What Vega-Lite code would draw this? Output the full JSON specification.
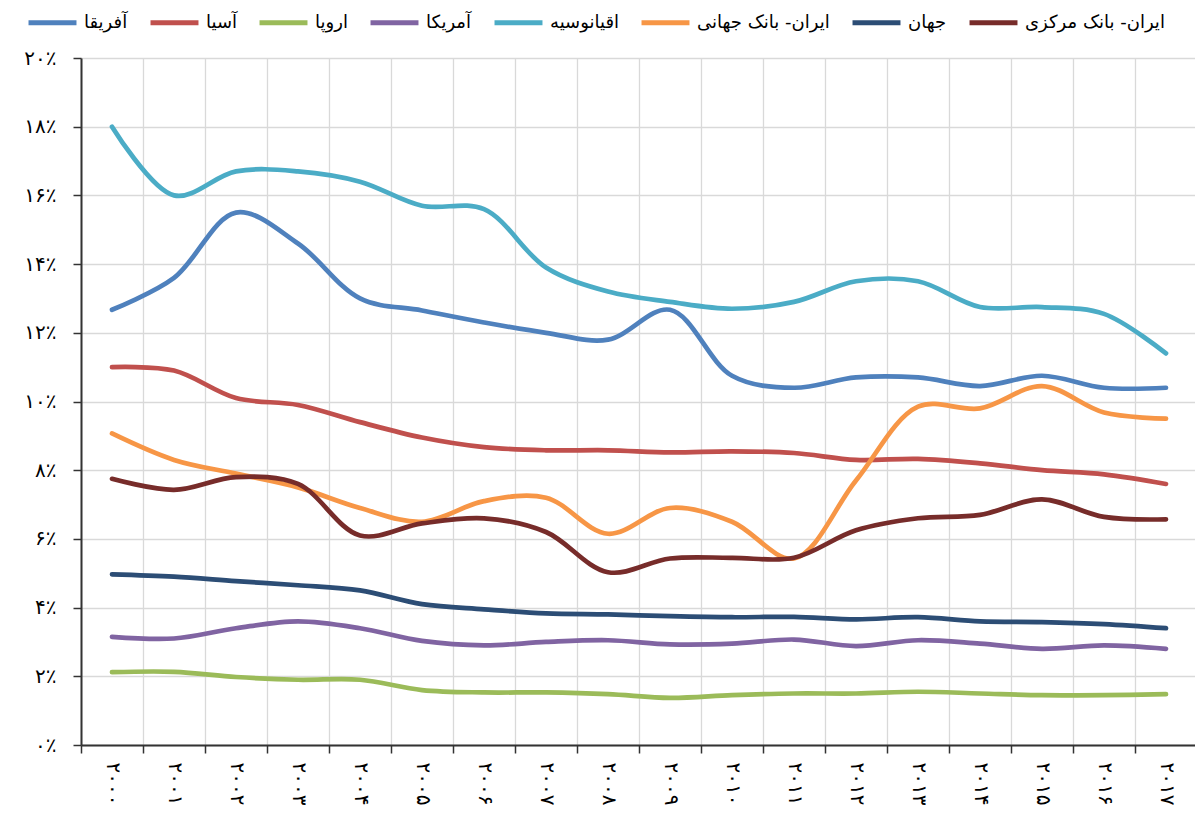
{
  "$schema": "https://vega.github.io/schema/vega-lite/v6.json",
  "width": 1116,
  "height": 687,
  "autosize": {"type": "none"},
  "padding": {"left": 81, "top": 58, "right": 0, "bottom": 76},
  "background": "white",
  "config": {"view": {"stroke": null}, "font": "DejaVu Sans"},
  "data": {"values": [
    {"s":"آفریقا","year":"۲۰۰۰","v":12.67},{"s":"آفریقا","year":"۲۰۰۱","v":13.6},{"s":"آفریقا","year":"۲۰۰۲","v":15.5},{"s":"آفریقا","year":"۲۰۰۳","v":14.6},{"s":"آفریقا","year":"۲۰۰۴","v":13.0},{"s":"آفریقا","year":"۲۰۰۵","v":12.65},{"s":"آفریقا","year":"۲۰۰۶","v":12.3},{"s":"آفریقا","year":"۲۰۰۷","v":12.0},{"s":"آفریقا","year":"۲۰۰۸","v":11.8},{"s":"آفریقا","year":"۲۰۰۹","v":12.67},{"s":"آفریقا","year":"۲۰۱۰","v":10.75},{"s":"آفریقا","year":"۲۰۱۱","v":10.4},{"s":"آفریقا","year":"۲۰۱۲","v":10.7},{"s":"آفریقا","year":"۲۰۱۳","v":10.7},{"s":"آفریقا","year":"۲۰۱۴","v":10.45},{"s":"آفریقا","year":"۲۰۱۵","v":10.75},{"s":"آفریقا","year":"۲۰۱۶","v":10.4},{"s":"آفریقا","year":"۲۰۱۷","v":10.4},
    {"s":"آسیا","year":"۲۰۰۰","v":11.0},{"s":"آسیا","year":"۲۰۰۱","v":10.9},{"s":"آسیا","year":"۲۰۰۲","v":10.1},{"s":"آسیا","year":"۲۰۰۳","v":9.9},{"s":"آسیا","year":"۲۰۰۴","v":9.4},{"s":"آسیا","year":"۲۰۰۵","v":8.95},{"s":"آسیا","year":"۲۰۰۶","v":8.67},{"s":"آسیا","year":"۲۰۰۷","v":8.58},{"s":"آسیا","year":"۲۰۰۸","v":8.58},{"s":"آسیا","year":"۲۰۰۹","v":8.52},{"s":"آسیا","year":"۲۰۱۰","v":8.55},{"s":"آسیا","year":"۲۰۱۱","v":8.5},{"s":"آسیا","year":"۲۰۱۲","v":8.3},{"s":"آسیا","year":"۲۰۱۳","v":8.33},{"s":"آسیا","year":"۲۰۱۴","v":8.2},{"s":"آسیا","year":"۲۰۱۵","v":8.0},{"s":"آسیا","year":"۲۰۱۶","v":7.88},{"s":"آسیا","year":"۲۰۱۷","v":7.6},
    {"s":"اروپا","year":"۲۰۰۰","v":2.12},{"s":"اروپا","year":"۲۰۰۱","v":2.13},{"s":"اروپا","year":"۲۰۰۲","v":1.98},{"s":"اروپا","year":"۲۰۰۳","v":1.9},{"s":"اروپا","year":"۲۰۰۴","v":1.9},{"s":"اروپا","year":"۲۰۰۵","v":1.6},{"s":"اروپا","year":"۲۰۰۶","v":1.53},{"s":"اروپا","year":"۲۰۰۷","v":1.53},{"s":"اروپا","year":"۲۰۰۸","v":1.48},{"s":"اروپا","year":"۲۰۰۹","v":1.37},{"s":"اروپا","year":"۲۰۱۰","v":1.45},{"s":"اروپا","year":"۲۰۱۱","v":1.5},{"s":"اروپا","year":"۲۰۱۲","v":1.5},{"s":"اروپا","year":"۲۰۱۳","v":1.55},{"s":"اروپا","year":"۲۰۱۴","v":1.5},{"s":"اروپا","year":"۲۰۱۵","v":1.45},{"s":"اروپا","year":"۲۰۱۶","v":1.45},{"s":"اروپا","year":"۲۰۱۷","v":1.48},
    {"s":"آمریکا","year":"۲۰۰۰","v":3.15},{"s":"آمریکا","year":"۲۰۰۱","v":3.1},{"s":"آمریکا","year":"۲۰۰۲","v":3.4},{"s":"آمریکا","year":"۲۰۰۳","v":3.6},{"s":"آمریکا","year":"۲۰۰۴","v":3.4},{"s":"آمریکا","year":"۲۰۰۵","v":3.03},{"s":"آمریکا","year":"۲۰۰۶","v":2.9},{"s":"آمریکا","year":"۲۰۰۷","v":3.0},{"s":"آمریکا","year":"۲۰۰۸","v":3.05},{"s":"آمریکا","year":"۲۰۰۹","v":2.93},{"s":"آمریکا","year":"۲۰۱۰","v":2.95},{"s":"آمریکا","year":"۲۰۱۱","v":3.07},{"s":"آمریکا","year":"۲۰۱۲","v":2.88},{"s":"آمریکا","year":"۲۰۱۳","v":3.05},{"s":"آمریکا","year":"۲۰۱۴","v":2.95},{"s":"آمریکا","year":"۲۰۱۵","v":2.8},{"s":"آمریکا","year":"۲۰۱۶","v":2.9},{"s":"آمریکا","year":"۲۰۱۷","v":2.8},
    {"s":"اقیانوسیه","year":"۲۰۰۰","v":18.0},{"s":"اقیانوسیه","year":"۲۰۰۱","v":16.0},{"s":"اقیانوسیه","year":"۲۰۰۲","v":16.7},{"s":"اقیانوسیه","year":"۲۰۰۳","v":16.7},{"s":"اقیانوسیه","year":"۲۰۰۴","v":16.4},{"s":"اقیانوسیه","year":"۲۰۰۵","v":15.7},{"s":"اقیانوسیه","year":"۲۰۰۶","v":15.6},{"s":"اقیانوسیه","year":"۲۰۰۷","v":13.9},{"s":"اقیانوسیه","year":"۲۰۰۸","v":13.2},{"s":"اقیانوسیه","year":"۲۰۰۹","v":12.9},{"s":"اقیانوسیه","year":"۲۰۱۰","v":12.7},{"s":"اقیانوسیه","year":"۲۰۱۱","v":12.9},{"s":"اقیانوسیه","year":"۲۰۱۲","v":13.5},{"s":"اقیانوسیه","year":"۲۰۱۳","v":13.5},{"s":"اقیانوسیه","year":"۲۰۱۴","v":12.75},{"s":"اقیانوسیه","year":"۲۰۱۵","v":12.75},{"s":"اقیانوسیه","year":"۲۰۱۶","v":12.55},{"s":"اقیانوسیه","year":"۲۰۱۷","v":11.4},
    {"s":"ایران- بانک جهانی","year":"۲۰۰۰","v":9.07},{"s":"ایران- بانک جهانی","year":"۲۰۰۱","v":8.3},{"s":"ایران- بانک جهانی","year":"۲۰۰۲","v":7.9},{"s":"ایران- بانک جهانی","year":"۲۰۰۳","v":7.5},{"s":"ایران- بانک جهانی","year":"۲۰۰۴","v":6.9},{"s":"ایران- بانک جهانی","year":"۲۰۰۵","v":6.5},{"s":"ایران- بانک جهانی","year":"۲۰۰۶","v":7.1},{"s":"ایران- بانک جهانی","year":"۲۰۰۷","v":7.2},{"s":"ایران- بانک جهانی","year":"۲۰۰۸","v":6.15},{"s":"ایران- بانک جهانی","year":"۲۰۰۹","v":6.9},{"s":"ایران- بانک جهانی","year":"۲۰۱۰","v":6.5},{"s":"ایران- بانک جهانی","year":"۲۰۱۱","v":5.43},{"s":"ایران- بانک جهانی","year":"۲۰۱۲","v":7.7},{"s":"ایران- بانک جهانی","year":"۲۰۱۳","v":9.85},{"s":"ایران- بانک جهانی","year":"۲۰۱۴","v":9.8},{"s":"ایران- بانک جهانی","year":"۲۰۱۵","v":10.45},{"s":"ایران- بانک جهانی","year":"۲۰۱۶","v":9.68},{"s":"ایران- بانک جهانی","year":"۲۰۱۷","v":9.5},
    {"s":"جهان","year":"۲۰۰۰","v":4.97},{"s":"جهان","year":"۲۰۰۱","v":4.9},{"s":"جهان","year":"۲۰۰۲","v":4.77},{"s":"جهان","year":"۲۰۰۳","v":4.65},{"s":"جهان","year":"۲۰۰۴","v":4.5},{"s":"جهان","year":"۲۰۰۵","v":4.1},{"s":"جهان","year":"۲۰۰۶","v":3.95},{"s":"جهان","year":"۲۰۰۷","v":3.83},{"s":"جهان","year":"۲۰۰۸","v":3.8},{"s":"جهان","year":"۲۰۰۹","v":3.75},{"s":"جهان","year":"۲۰۱۰","v":3.72},{"s":"جهان","year":"۲۰۱۱","v":3.73},{"s":"جهان","year":"۲۰۱۲","v":3.66},{"s":"جهان","year":"۲۰۱۳","v":3.72},{"s":"جهان","year":"۲۰۱۴","v":3.6},{"s":"جهان","year":"۲۰۱۵","v":3.58},{"s":"جهان","year":"۲۰۱۶","v":3.52},{"s":"جهان","year":"۲۰۱۷","v":3.4},
    {"s":"ایران- بانک مرکزی","year":"۲۰۰۰","v":7.75},{"s":"ایران- بانک مرکزی","year":"۲۰۰۱","v":7.43},{"s":"ایران- بانک مرکزی","year":"۲۰۰۲","v":7.8},{"s":"ایران- بانک مرکزی","year":"۲۰۰۳","v":7.6},{"s":"ایران- بانک مرکزی","year":"۲۰۰۴","v":6.1},{"s":"ایران- بانک مرکزی","year":"۲۰۰۵","v":6.45},{"s":"ایران- بانک مرکزی","year":"۲۰۰۶","v":6.6},{"s":"ایران- بانک مرکزی","year":"۲۰۰۷","v":6.2},{"s":"ایران- بانک مرکزی","year":"۲۰۰۸","v":5.03},{"s":"ایران- بانک مرکزی","year":"۲۰۰۹","v":5.43},{"s":"ایران- بانک مرکزی","year":"۲۰۱۰","v":5.45},{"s":"ایران- بانک مرکزی","year":"۲۰۱۱","v":5.45},{"s":"ایران- بانک مرکزی","year":"۲۰۱۲","v":6.25},{"s":"ایران- بانک مرکزی","year":"۲۰۱۳","v":6.6},{"s":"ایران- بانک مرکزی","year":"۲۰۱۴","v":6.7},{"s":"ایران- بانک مرکزی","year":"۲۰۱۵","v":7.15},{"s":"ایران- بانک مرکزی","year":"۲۰۱۶","v":6.64},{"s":"ایران- بانک مرکزی","year":"۲۰۱۷","v":6.57}
  ]},
  "mark": {"type": "line", "interpolate": "catmull-rom", "strokeWidth": 4.7, "strokeCap": "round", "strokeJoin": "round"},
  "encoding": {
    "x": {
      "field": "year", "type": "nominal", "sort": null,
      "scale": {"type": "band", "paddingInner": 0, "paddingOuter": 0},
      "bandPosition": 0.5,
      "axis": {
        "title": null, "labelAngle": 90, "labelAlign": "left", "labelBaseline": "middle",
        "labelFontSize": 20, "labelColor": "#000", "labelPadding": 9,
        "tickBand": "extent", "tickSize": 8, "tickColor": "#333", "tickWidth": 1.5,
        "domainColor": "#333", "domainWidth": 2,
        "grid": true, "gridColor": "#d9d9d9", "gridWidth": 1.3
      }
    },
    "y": {
      "field": "v", "type": "quantitative",
      "scale": {"domain": [0, 20], "nice": false},
      "axis": {
        "title": null, "values": [0, 2, 4, 6, 8, 10, 12, 14, 16, 18, 20],
        "labelExpr": "['۰٪','۲٪','۴٪','۶٪','۸٪','۱۰٪','۱۲٪','۱۴٪','۱۶٪','۱۸٪','۲۰٪'][round(datum.value/2)]",
        "labelFontSize": 20, "labelColor": "#000", "labelPadding": 17,
        "tickSize": 8, "tickColor": "#333", "tickWidth": 1.5,
        "domainColor": "#333", "domainWidth": 2,
        "grid": true, "gridColor": "#d9d9d9", "gridWidth": 1.3
      }
    },
    "color": {
      "field": "s", "type": "nominal",
      "scale": {
        "domain": ["آفریقا", "آسیا", "اروپا", "آمریکا", "اقیانوسیه", "ایران- بانک جهانی", "جهان", "ایران- بانک مرکزی"],
        "range": ["#4F81BD", "#C0504D", "#9BBB59", "#8064A2", "#4BACC6", "#F79646", "#2C4D75", "#772C2A"]
      },
      "legend": {
        "title": null, "orient": "none", "legendX": -55, "legendY": -62,
        "direction": "horizontal", "symbolType": "stroke", "symbolSize": 2300,
        "symbolStrokeWidth": 5, "labelFontSize": 18, "labelColor": "#000",
        "columnPadding": 12, "labelOffset": 5
      }
    }
  }
}
